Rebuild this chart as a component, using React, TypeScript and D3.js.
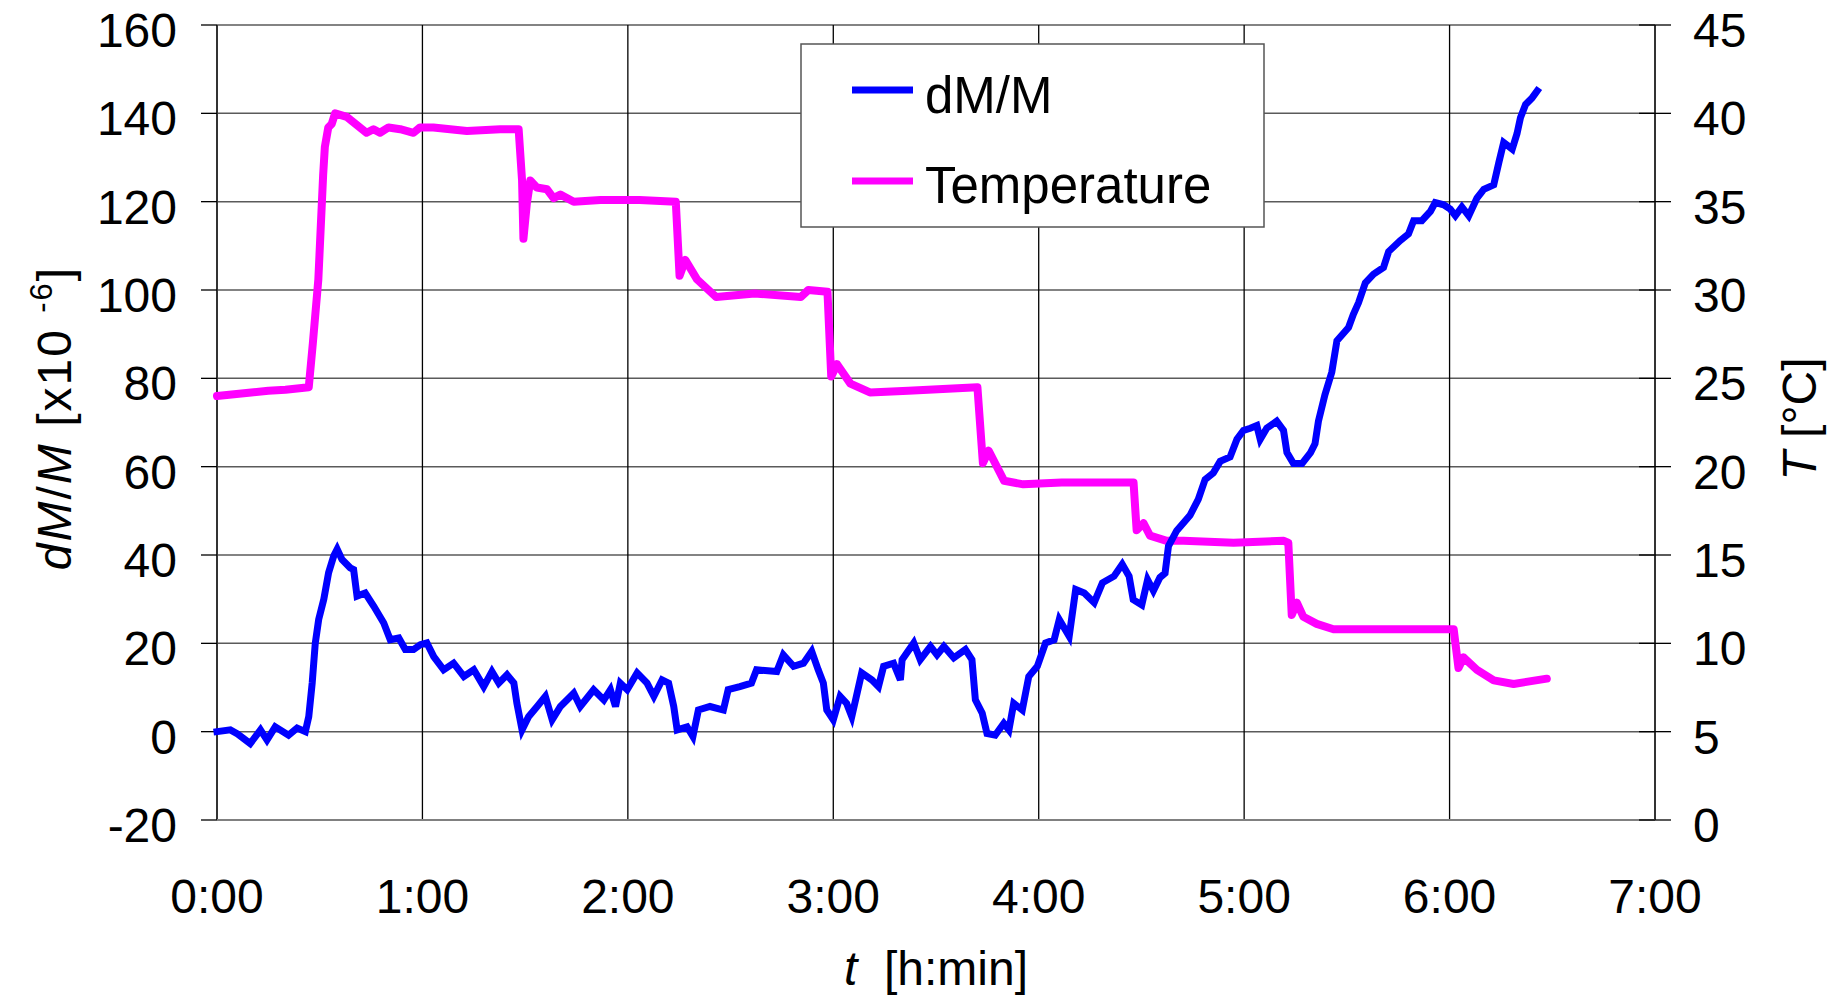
import React from "react";
import * as d3 from "d3";

// ---- data (time in minutes) ----
const dmTime = [0,3.9,6,9.7,12.7,14.6,17,20.9,23.4,25.8,26.8,27.8,28.7,29.7,31.2,32.6,34.1,35.1,36.5,38.9,39.9,40.9,43.3,45.8,48.7,50.6,53.1,55,57.4,59.4,61.3,63.3,66.2,69.1,72.1,75,77.9,80.3,82.3,84.7,86.7,87.6,89.1,91,93.5,95.9,97.9,100.3,104.2,106.1,110,113,114.9,116.4,117.8,119.8,122.7,125.6,127.6,130,131.9,133.4,134.4,137.3,139,140.6,144,147.9,149.3,152.7,156.1,157.6,163.5,165.4,168.4,171.3,173.7,175.6,177.1,178.1,180,182,183.9,185.4,188.3,191.3,193.2,194.7,197.6,199.6,200.1,203.5,205.4,208.4,210.3,212.3,215.2,218.6,220.5,221.5,223.5,224.9,227.3,229.8,231.3,232.7,235.2,237.1,239.6,242,244.5,246,248.9,250.8,253.3,256.2,258.6,262,264.4,266.4,267.6,270.1,271.8,273.5,275.4,276.9,277.9,280.3,284.2,286.6,288.6,291,293,295.9,297.9,299.8,301.8,303.7,304.7,306.6,309.5,311.5,312.5,314.4,316.9,319.4,320.7,321.7,323.6,325.6,327.1,330.5,331.9,333.4,335.4,337.8,340.7,342.2,345.6,348,349.5,351.9,354.4,355.8,358.3,360.2,361.7,363.6,365.6,368,370,372.9,374.4,375.8,378.3,379.7,380.7,382.2,384.1,385.6];
const dmValue = [0,0.4,-0.5,-2.7,0.4,-1.9,1.1,-0.8,0.8,0,3.4,11,20,25.4,30,36,39.8,41.3,39,37.1,36.7,30.7,31.4,28.4,24.6,20.8,21.2,18.6,18.6,19.7,20.1,17,14,15.5,12.5,14,10.2,13.6,11,12.9,11,6.4,0.4,3.4,5.7,8,2.7,5.7,8.7,5.7,9.5,7.2,9.5,5.7,11,9.5,13.3,11,8,11.7,11,5.7,0.4,1.1,-1.1,4.9,5.7,4.9,9.5,10.2,11,14,13.6,17.4,14.8,15.5,18.2,14,11,4.9,2.7,8,6.4,3.4,13.3,11.7,10.2,14.8,15.5,11.7,16.3,20.1,16.3,19.3,17.4,19.3,16.7,18.6,16.3,7.2,4.2,-0.4,-0.8,1.9,0.4,6.4,4.9,12.5,14.8,20.1,20.8,25.4,21.6,32.2,31.4,29.2,33.7,35.2,37.9,35.2,29.9,28.7,34.4,31.9,34.9,35.9,42,45.5,49,52.6,57.1,58.6,61.2,62.2,66.2,68.2,68.7,69.3,66.2,68.7,70.3,68.2,63.2,60.7,60.7,63.2,65.2,70.3,76.3,81.4,88.5,91.5,94.5,97.1,101.6,103.6,105.1,108.7,111.2,112.7,115.7,115.7,117.8,119.8,119.3,118.3,116.8,118.8,116.8,120.8,122.8,123.8,128.9,133.4,131.9,135.4,139,142,143.5,145.1];

const tempTime = [0,5,10,15,20,26.8,28,29.6,31,31.5,32.5,33.5,34.5,37.9,39.8,43.7,45.7,47.6,50.1,53.5,57.4,59.3,63.2,73,82.7,88.1,89.1,89.5,90.5,91.5,93.4,96.4,98.3,100.3,104.2,112,123.4,134,135.1,136.8,140.2,145.8,157,170.5,172.7,178.3,179.4,181.1,185,190.7,201.9,222.1,223.7,225.4,229.9,235.5,246.7,267.7,268.6,270.6,272.5,277.4,282.3,296.9,311.5,312.9,313.9,315.4,317.3,321.2,326.1,335.8,350.5,361.2,362.6,364.1,368,372.9,378.7,388.4];
const tempValue = [24.0,24.1,24.2,24.3,24.35,24.5,27,30.6,36.5,38.1,39.2,39.4,40.0,39.8,39.5,38.9,39.1,38.9,39.2,39.1,38.9,39.2,39.2,39.0,39.1,39.1,36.2,32.9,34.9,36.2,35.8,35.7,35.2,35.4,35.0,35.1,35.1,35.0,30.8,31.7,30.6,29.6,29.8,29.6,30.0,29.9,25.1,25.8,24.7,24.2,24.3,24.5,20.2,20.9,19.2,19.0,19.1,19.1,16.4,16.8,16.1,15.8,15.8,15.7,15.8,15.7,11.6,12.3,11.5,11.1,10.8,10.8,10.8,10.8,8.6,9.2,8.5,7.9,7.7,8.0];

const leftTicks = [-20,0,20,40,60,80,100,120,140,160];
const rightTicks = [0,5,10,15,20,25,30,35,40,45];
const xTicks = [0,60,120,180,240,300,360,420];
const xTickLabels = ["0:00","1:00","2:00","3:00","4:00","5:00","6:00","7:00"];
const seriesNames = ["dM/M","Temperature"];
const seriesColors = ["#0000FF","#FF00FF"];

const W = 1843, H = 1000;
const L = 217, R = 1655, T = 25, B = 820;
const FONT = "'Liberation Sans', Arial, Helvetica, sans-serif";

export default function App() {
  const x = d3.scaleLinear().domain([0, 420]).range([L, R]);
  const yL = d3.scaleLinear().domain([-20, 160]).range([B, T]);
  const yR = d3.scaleLinear().domain([0, 45]).range([B, T]);

  const dmData = dmTime.map((t, i) => [t, dmValue[i]] as [number, number]);
  const tData = tempTime.map((t, i) => [t, tempValue[i]] as [number, number]);
  const dmLine = d3.line<[number, number]>().x(d => x(d[0])).y(d => yL(d[1]));
  const tLine = d3.line<[number, number]>().x(d => x(d[0])).y(d => yR(d[1]));

  return (
    <svg width={W} height={H} style={{ position: "fixed", left: 0, top: 0, background: "#fff" }} fontFamily={FONT}>
      <rect x={0} y={0} width={W} height={H} fill="#fff" />
      {/* horizontal gridlines */}
      {leftTicks.map(v => (
        <line key={"h" + v} x1={L} x2={R} y1={yL(v)} y2={yL(v)} stroke="#5a5a5a" strokeWidth={1.5} />
      ))}
      {/* vertical gridlines */}
      {xTicks.slice(1, -1).map(v => (
        <line key={"v" + v} x1={x(v)} x2={x(v)} y1={T} y2={B} stroke="#000" strokeWidth={1.3} />
      ))}
      {/* axes */}
      <line x1={L} x2={L} y1={T} y2={B} stroke="#333" strokeWidth={2} />
      <line x1={R} x2={R} y1={T} y2={B} stroke="#333" strokeWidth={2} />
      <line x1={L} x2={R} y1={B} y2={B} stroke="#808080" strokeWidth={2} />
      {leftTicks.map(v => (
        <g key={"lt" + v}>
          <line x1={L - 16} x2={L} y1={yL(v)} y2={yL(v)} stroke="#000" strokeWidth={1.3} />
          <text x={177} y={yL(v) + 22} textAnchor="end" fontSize={48} fill="#000">{v}</text>
        </g>
      ))}
      {rightTicks.map(v => (
        <g key={"rt" + v}>
          <line x1={R - 16} x2={R + 16} y1={yR(v)} y2={yR(v)} stroke="#000" strokeWidth={1.3} />
          <text x={1693} y={yR(v) + 22} textAnchor="start" fontSize={48} fill="#000">{v}</text>
        </g>
      ))}
      {xTicks.map((v, i) => (
        <text key={"xt" + v} x={x(v)} y={913} textAnchor="middle" fontSize={48} fill="#000">{xTickLabels[i]}</text>
      ))}
      {/* series */}
      <path d={tLine(tData) || ""} fill="none" stroke={seriesColors[1]} strokeWidth={8} strokeLinejoin="round" strokeLinecap="round" />
      <path d={dmLine(dmData) || ""} fill="none" stroke={seriesColors[0]} strokeWidth={7} strokeLinejoin="miter" strokeLinecap="square" />
      {/* legend */}
      <rect x={801} y={44} width={463} height={183} fill="#fff" stroke="#555" strokeWidth={1.5} />
      {seriesNames.map((n, i) => (
        <g key={n}>
          <line x1={852} x2={913} y1={90 + i * 91} y2={90 + i * 91} stroke={seriesColors[i]} strokeWidth={7} />
          <text x={925} y={113 + i * 90} fontSize={51} fill="#000">{n}</text>
        </g>
      ))}
      {/* axis titles */}
      <text x={(L + R) / 2} y={985} textAnchor="middle" fontSize={48} fill="#000" xmlSpace="preserve">
        <tspan fontStyle="italic">t</tspan>
        <tspan>{"  [h:min]"}</tspan>
      </text>
      <text transform={`translate(71,418) rotate(-90)`} textAnchor="middle" fontSize={48} fill="#000" xmlSpace="preserve" letterSpacing={2}>
        <tspan fontStyle="italic">dM</tspan>
        <tspan>/</tspan>
        <tspan fontStyle="italic">M</tspan>
        <tspan>{" [x10 "}</tspan>
        <tspan fontSize={31} dy={-19}>-6</tspan>
        <tspan dy={19}>]</tspan>
      </text>
      <text transform={`translate(1816,419) rotate(-90)`} textAnchor="middle" fontSize={48} fill="#000" xmlSpace="preserve">
        <tspan fontStyle="italic">T</tspan>
        <tspan>{" [°C]"}</tspan>
      </text>
    </svg>
  );
}
